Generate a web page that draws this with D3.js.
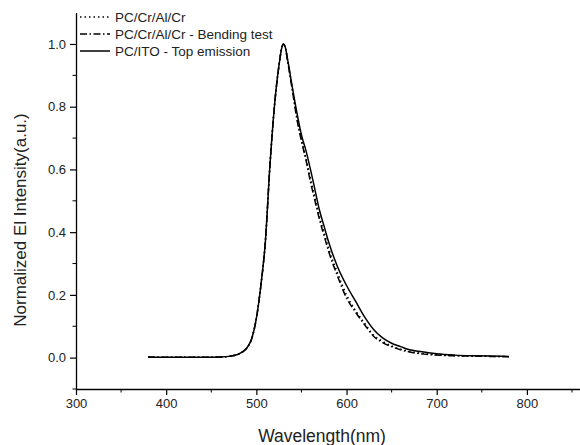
<!DOCTYPE html>
<html>
<head>
<meta charset="utf-8">
<script src="https://cdn.jsdelivr.net/npm/d3@7"></script>
<style>
  body { margin: 0; background: #fff; }
  svg { display: block; font-family: Arial, "Liberation Sans", sans-serif; }
</style>
</head>
<body>
<div class="chart"></div>
<script>
// wavelength grid (nm)
var wavelengths = [380, 400, 420, 440, 460, 470, 475, 480, 485, 490, 495, 500, 505, 510, 515, 520, 525, 528, 530, 532, 535, 540, 545, 550, 555, 560, 565, 570, 575, 580, 590, 600, 610, 620, 630, 640, 650, 660, 670, 680, 700, 720, 740, 760, 780];
// PC/Cr/Al/Cr (dotted)
var crDotted = [0.002, 0.001, 0.001, 0.001, 0.002, 0.004, 0.007, 0.011, 0.019, 0.033, 0.062, 0.125, 0.23, 0.37, 0.61, 0.80, 0.93, 0.985, 1.0, 0.99, 0.94, 0.855, 0.765, 0.695, 0.635, 0.57, 0.51, 0.45, 0.40, 0.35, 0.27, 0.20, 0.15, 0.11, 0.072, 0.052, 0.037, 0.027, 0.02, 0.015, 0.009, 0.006, 0.005, 0.004, 0.003];
// PC/Cr/Al/Cr - Bending test (dash-dot)
var crBending = [0.002, 0.001, 0.001, 0.001, 0.002, 0.004, 0.007, 0.011, 0.019, 0.033, 0.062, 0.125, 0.23, 0.37, 0.61, 0.80, 0.93, 0.985, 1.0, 0.99, 0.94, 0.85, 0.76, 0.69, 0.63, 0.56, 0.50, 0.44, 0.39, 0.34, 0.26, 0.19, 0.145, 0.105, 0.068, 0.048, 0.035, 0.025, 0.018, 0.013, 0.008, 0.006, 0.005, 0.004, 0.003];
// PC/ITO - Top emission (solid)
var itoSolid = [0.002, 0.001, 0.001, 0.001, 0.002, 0.004, 0.007, 0.011, 0.019, 0.033, 0.062, 0.125, 0.23, 0.37, 0.61, 0.80, 0.93, 0.985, 1.0, 0.99, 0.945, 0.86, 0.78, 0.71, 0.66, 0.60, 0.535, 0.47, 0.42, 0.37, 0.29, 0.23, 0.18, 0.13, 0.09, 0.063, 0.046, 0.035, 0.025, 0.02, 0.012, 0.008, 0.006, 0.005, 0.004];

var seriesNames = ["PC/Cr/Al/Cr", "PC/Cr/Al/Cr - Bending test", "PC/ITO - Top emission"];
var xTicks = [300, 400, 500, 600, 700, 800];
var yTicks = [0.0, 0.2, 0.4, 0.6, 0.8, 1.0];

var svgWidth = 580;
var svgHeight = 445;

var svg = d3.select(".chart")
  .append("svg")
  .attr("width", svgWidth)
  .attr("height", svgHeight);

var x = d3.scaleLinear().domain([300, 860]).range([76, 581]);
var y = d3.scaleLinear().domain([-0.1, 1.1]).range([389, 12.6]);

// x axis
var xAxis = d3.axisBottom(x).tickValues(xTicks).tickSize(6).tickSizeOuter(0).tickPadding(4);
var gx = svg.append("g")
  .attr("transform", `translate(0, ${y(-0.1)})`)
  .call(xAxis);
gx.append("g").selectAll("line")
  .data(d3.range(350, 860, 100))
  .enter().append("line")
  .attr("x1", d => x(d)).attr("x2", d => x(d))
  .attr("y1", 0).attr("y2", 3.5)
  .attr("stroke", "#000");

// y axis
var yAxis = d3.axisLeft(y).tickValues(yTicks).tickFormat(d3.format(".1f")).tickSize(6).tickSizeOuter(0).tickPadding(4);
var gy = svg.append("g")
  .attr("transform", `translate(${x(300)}, 0)`)
  .call(yAxis);
gy.append("g").selectAll("line")
  .data([-0.1, 0.1, 0.3, 0.5, 0.7, 0.9])
  .enter().append("line")
  .attr("x1", 0).attr("x2", -3.5)
  .attr("y1", d => y(d)).attr("y2", d => y(d))
  .attr("stroke", "#000");

svg.selectAll(".domain").attr("stroke-width", 1.3);
svg.selectAll(".tick line").attr("stroke-width", 1.2);
svg.selectAll(".tick text")
  .style("font-family", "Arial, 'Liberation Sans', sans-serif")
  .style("font-size", "13px")
  .attr("fill", "#222");

// lines
var allSeries = [crDotted, crBending, itoSolid];
var dashes = ["1.5,3", "7,2.5,1.5,2.5", null];
var line = d3.line()
  .x((d, i) => x(wavelengths[i]))
  .y(d => y(d))
  .curve(d3.curveMonotoneX);

allSeries.forEach(function(vals, k) {
  svg.append("path")
    .datum(vals)
    .attr("d", line)
    .attr("fill", "none")
    .attr("stroke", "#000")
    .attr("stroke-width", 1.5)
    .attr("stroke-dasharray", dashes[k]);
});

// legend
var legend = svg.append("g");
seriesNames.forEach(function(name, k) {
  var ly = 17 + k * 17;
  legend.append("line")
    .attr("x1", 80).attr("x2", 110)
    .attr("y1", ly).attr("y2", ly)
    .attr("stroke", "#000")
    .attr("stroke-width", 1.5)
    .attr("stroke-dasharray", dashes[k]);
  legend.append("text")
    .attr("x", 115).attr("y", ly)
    .attr("dy", "0.35em")
    .style("font-size", "13.5px")
    .attr("fill", "#222")
    .text(name);
});

// axis titles
svg.append("text")
  .attr("x", 322)
  .attr("y", 442)
  .attr("text-anchor", "middle")
  .style("font-size", "17.5px")
  .attr("fill", "#222")
  .text("Wavelength(nm)");

svg.append("text")
  .attr("transform", "rotate(-90)")
  .attr("x", -220)
  .attr("y", 26)
  .attr("text-anchor", "middle")
  .style("font-size", "17px")
  .attr("fill", "#222")
  .text("Normalized El Intensity(a.u.)");
</script>
</body>
</html>
